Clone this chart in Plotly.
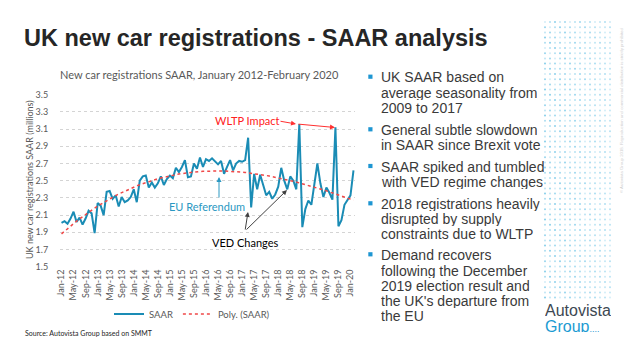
import numpy as np
import pandas as pd
import plotly.graph_objects as go

W, H = 640, 360

# ---------------- data ----------------
months = pd.date_range("2012-01-01", "2020-02-01", freq="MS").strftime("%b-%y").tolist()

saar = [
    2.01, 2.03, 2.00, 2.06, 2.14, 2.02, 2.07, 1.99, 2.06, 2.15, 2.12, 1.89,
    2.24, 2.21, 2.10, 2.37, 2.38, 2.29, 2.33, 2.20, 2.31, 2.25, 2.27, 2.31,
    2.40, 2.25, 2.50, 2.55, 2.56, 2.42, 2.48, 2.42, 2.47, 2.55, 2.45, 2.52,
    2.56, 2.53, 2.65, 2.60, 2.66, 2.74, 2.54, 2.55, 2.70, 2.64, 2.77, 2.66,
    2.75, 2.73, 2.76, 2.72, 2.69, 2.73, 2.58, 2.66, 2.74, 2.62, 2.70, 2.73,
    2.72, 2.74, 3.00, 2.19, 2.58, 2.40, 2.57, 2.45, 2.33, 2.37, 2.29, 2.34,
    2.43, 2.65, 2.50, 2.40, 2.55, 2.50, 2.40, 3.16, 1.96, 2.17, 2.27, 2.22,
    2.48, 2.70, 2.47, 2.31, 2.42, 2.36, 2.28, 3.12, 1.97, 2.04, 2.22, 2.27,
    2.33, 2.62,
]
tick_labels = months[::4]
y_ticks = [1.5, 1.7, 1.9, 2.1, 2.3, 2.5, 2.7, 2.9, 3.1, 3.3, 3.5]

bullets = [
    ["UK SAAR based on", "average seasonality from", "2009 to 2017"],
    ["General subtle slowdown", "in SAAR since Brexit vote"],
    ["SAAR spiked and tumbled", "with VED regime changes"],
    ["2018 registrations heavily", "disrupted by supply", "constraints due to WLTP"],
    ["Demand recovers", "following the December", "2019 election result and",
     "the UK's departure from", "the EU"],
]
bullet_line_y = [[76.7, 92.3, 107.5], [129.3, 144.5], [166, 181.3],
                 [203.3, 218.5, 233.7], [254.3, 270, 285.2, 300.4, 315.8]]

# polynomial trendline (as Excel's "Poly." trendline)
idx = np.arange(len(saar))
trend = np.polyval(np.polyfit(idx, saar, 3), idx)


def px(x):
    return x / W


def py(y):
    return 1 - y / H


GRAY = "#595959"
TEAL = "#1a8cb5"
CHART_FONT = "Lato"

fig = go.Figure()

# decorative dot pattern (top right), on an overlay pixel axis
dx, dy, dc = [], [], []
cols = np.arange(545, 614, 5)
rows = np.arange(22, 298, 5.2)
for ci, cx in enumerate(cols):
    for ri, ry in enumerate(rows):
        a = 0.22 + 0.40 * ((ci * 7 + ri * 3) % 5) / 4 * (1 - ci / 22)
        dx.append(cx)
        dy.append(ry)
        dc.append(f"rgba(60,175,220,{a:.2f})")
fig.add_trace(go.Scatter(x=dx, y=dy, mode="markers", xaxis="x2", yaxis="y2",
                         marker=dict(size=2, color=dc, line=dict(width=0)),
                         showlegend=False, hoverinfo="skip"))

fig.add_trace(go.Scatter(x=months, y=saar, mode="lines", name="SAAR",
                         line=dict(color=TEAL, width=2)))
fig.add_trace(go.Scatter(x=months, y=trend, mode="lines", name="Poly. (SAAR)",
                         line=dict(color="#f04848", width=1.5, dash="dot")))

annotations = []


def text(x, y, s, size, color, family="Liberation Sans", xanchor="left", **kw):
    annotations.append(dict(x=px(x), y=py(y), xref="paper", yref="paper", text=s,
                            showarrow=False, xanchor=xanchor, yanchor="middle",
                            font=dict(size=size, color=color, family=family), **kw))


def arrow(tx, ty, hx, hy, color):
    annotations.append(dict(x=px(hx), y=py(hy), xref="paper", yref="paper", text="",
                            showarrow=True, ax=tx - hx, ay=ty - hy, arrowhead=2,
                            arrowsize=1, arrowwidth=1, arrowcolor=color, standoff=0,
                            startstandoff=0))


# title
text(22, 38, "<b>UK new car registrations - SAAR analysis</b>", 23.5, "#262626")
# chart title
text(199, 74.5, "New car registrations SAAR, January 2012-February 2020", 11, GRAY,
     family=CHART_FONT, xanchor="center")
# y axis title
text(29, 180, "UK new car registrations SAAR (millions)", 9, GRAY, family=CHART_FONT,
     xanchor="center", textangle=-90)
# source
text(23, 333, "Source: Autovista Group based on SMMT", 7, "#262626", family=CHART_FONT)

# chart annotations
text(247, 120.5, "WLTP Impact", 11, "#ff2020", family=CHART_FONT, xanchor="center")
arrow(279, 121, 296, 124, "#ff3030")
arrow(297, 124, 335, 127.5, "#ff3030")
text(207, 206, "EU Referendum", 11, "#2a98c2", family=CHART_FONT, xanchor="center")
arrow(219, 199, 219, 177, "#2a98c2")
text(245, 242, "VED Changes", 11, "#000000", family=CHART_FONT, xanchor="center")
arrow(245, 231, 248, 212, "#404040")
arrow(245, 231, 287, 190, "#404040")

# bullets on the right
shapes = []
for lines, ys in zip(bullets, bullet_line_y):
    shapes.append(dict(type="rect", xref="paper", yref="paper",
                       x0=px(368.3), x1=px(372.5), y0=py(ys[0] - 2.1), y1=py(ys[0] + 2.1),
                       fillcolor="#1e96d2", line=dict(width=0)))
    for s, yy in zip(lines, ys):
        text(379, yy, s, 14, "#3a3a3a", height=15)

# logo
text(543, 310, "Autovista", 16, "#3d4852", height=12)
text(543, 326, "Group<span style='font-size:9px'>....</span>", 16, "#1b9ad2", height=12)

# copyright vertical text
text(621, 111, "© Autovista Group 2018. Reproduction and commercial distribution is strictly prohibited",
     4.3, "#cfcfcf", xanchor="center", textangle=-90)

fig.update_layout(
    width=W, height=H,
    margin=dict(l=0, r=0, t=0, b=0),
    paper_bgcolor="white", plot_bgcolor="rgba(0,0,0,0)",
    showlegend=True,
    legend=dict(orientation="h", x=px(192), xanchor="center", y=py(314), yanchor="middle",
                font=dict(size=9.5, color=GRAY, family=CHART_FONT),
                bgcolor="rgba(0,0,0,0)", itemwidth=30),
    xaxis=dict(domain=[px(60), px(355)], type="category", range=[-0.5, len(months) - 0.5],
               tickvals=tick_labels, ticktext=tick_labels, tickangle=-90,
               tickfont=dict(size=9, color=GRAY, family=CHART_FONT),
               showgrid=False, showline=False, zeroline=False, ticks="", automargin=False),
    yaxis=dict(domain=[py(266.7), py(94.7)], range=[1.5, 3.5], tickvals=y_ticks,
               tickformat=".1f", tickfont=dict(size=9, color=GRAY, family=CHART_FONT),
               showgrid=True, gridcolor="#d4d4d4", griddash="dot", gridwidth=1,
               zeroline=False, showline=False, ticks="outside", ticklen=9,
               tickcolor="rgba(0,0,0,0)", automargin=False),
    xaxis2=dict(domain=[0, 1], range=[0, W], visible=False, anchor="y2", fixedrange=True),
    yaxis2=dict(domain=[0, 1], range=[H, 0], visible=False, anchor="x2", fixedrange=True),
    annotations=annotations,
    shapes=shapes,
)

fig.write_html("out.html", config={"displayModeBar": False},
               post_script="document.body.style.margin='0';document.body.style.overflow='hidden';")
